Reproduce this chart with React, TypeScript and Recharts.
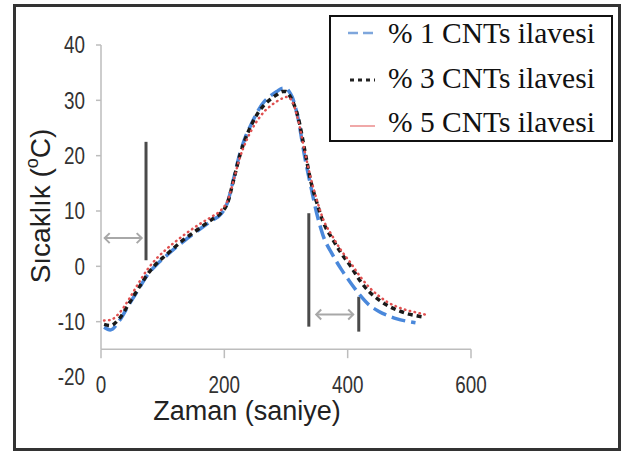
import { LineChart, Line, XAxis, YAxis, ReferenceLine, Legend } from 'recharts'

// zaman (s)
const times = [
  5, 15, 30, 45, 60, 75, 90, 105, 120, 135, 150, 165, 180, 195, 205, 215, 225, 235, 245, 255, 265,
  275, 285, 295, 300, 305, 310, 320, 330, 340, 350, 360, 375, 390, 405, 420, 435, 450, 465, 480,
  495, 510, 525,
]
// % 1 CNTs
const cnt1 = [
  -11.0, -11.5, -9.8, -7.0, -4.3, -1.6, 0.3, 1.8, 3.3, 4.6, 5.9, 7.1, 8.3, 9.5, 11.5, 15.8, 20.3,
  23.6, 26.0, 28.2, 29.8, 30.8, 31.6, 32.2, 32.2, 31.6, 30.6, 26.5, 20.0, 14.6, 9.5, 5.6, 2.2,
  -0.6, -3.0, -5.2, -7.0, -8.1, -8.9, -9.5, -9.9, -10.2, null,
]
// % 3 CNTs
const cnt3 = [
  -10.5, -10.7, -9.4, -6.8, -4.1, -1.5, 0.5, 2.0, 3.5, 4.9, 6.1, 7.3, 8.5, 9.7, 11.4, 15.6, 20.0,
  23.3, 25.8, 27.8, 29.2, 30.2, 31.0, 31.6, 31.6, 31.0, 30.0, 26.8, 21.2, 15.5, 11.5, 8.1, 5.0,
  2.3, 0.0, -2.6, -4.6, -6.0, -7.1, -7.9, -8.5, -8.9, -9.2,
]
// % 5 CNTs
const cnt5 = [
  -9.8, -9.7, -8.4, -6.0, -3.2, -0.6, 1.4, 3.0, 4.4, 5.7, 6.9, 8.0, 9.0, 10.2, 11.8, 15.5, 19.6,
  22.5, 24.8, 26.6, 28.0, 29.0, 29.8, 30.4, 30.6, 30.5, 29.8, 26.3, 21.0, 16.0, 12.0, 8.6, 5.5,
  2.8, 0.6, -1.8, -3.8, -5.3, -6.5, -7.3, -7.9, -8.3, -8.7,
]

const xTicks = [0, 200, 400, 600]
const yTicks = [-20, -10, 0, 10, 20, 30, 40]
const legendLabels = ['% 1 CNTs ilavesi', '% 3 CNTs ilavesi', '% 5 CNTs ilavesi']

// işaret çizgileri (s, °C)
const markLines = [
  { t: 73, from: 1.1, to: 22.5 },
  { t: 337, from: -10.9, to: 9.6 },
  { t: 418, from: -11.8, to: -5.5 },
]
const arrows = [
  { from: 6, to: 66, at: 5.1 },
  { from: 349, to: 409, at: -8.7 },
]
const axisBase = -15

const data = times.map((t, i) => ({ t, a: cnt1[i], b: cnt3[i], c: cnt5[i] }))

const tickFont = '"Liberation Sans Narrow", "Liberation Sans", Arial, sans-serif'
const axisGray = '#bdbdbd'

function YTick({ x, y, payload }: any) {
  return (
    <g>
      {payload.value > -20 && (
        <line x1={x + 11} x2={x + 16} y1={y} y2={y} stroke={axisGray} strokeWidth={1.5} />
      )}
      <text
        transform={`translate(${x},${y}) scale(0.82,1)`}
        dy="0.36em"
        textAnchor="end"
        fontFamily={tickFont}
        fontSize={23}
        fill="#333"
      >
        {payload.value}
      </text>
    </g>
  )
}

function XTick({ x, y, payload }: any) {
  return (
    <text
      transform={`translate(${x},${y + 16}) scale(0.82,1)`}
      textAnchor="middle"
      fontFamily={tickFont}
      fontSize={23}
      fill="#333"
    >
      {payload.value}
    </text>
  )
}

function Arrow({ x1, y1, x2, y2 }: any) {
  const h = 5
  return (
    <g stroke="#a8a8a8" strokeWidth={2} fill="none">
      <line x1={x1} y1={y1} x2={x2} y2={y2} />
      <polyline points={`${x1 + h},${y1 - h} ${x1},${y1} ${x1 + h},${y1 + h}`} />
      <polyline points={`${x2 - h},${y2 - h} ${x2},${y2} ${x2 - h},${y2 + h}`} />
    </g>
  )
}

function LegendBox() {
  const serif = '"Liberation Serif", "Times New Roman", serif'
  return (
    <svg width={284} height={127} style={{ display: 'block' }}>
      <rect x={1} y={1} width={282} height={125} fill="#fff" stroke="#111" strokeWidth={2} />
      <line x1={19} x2={46} y1={18} y2={18} stroke="#7ea6dc" strokeWidth={2.5} strokeDasharray="10 5" />
      <line x1={21} x2={46} y1={65} y2={65} stroke="#222" strokeWidth={3} strokeDasharray="4 4" />
      <line x1={21} x2={46} y1={111} y2={111} stroke="#f0a8a8" strokeWidth={2} />
      {legendLabels.map((s, i) => (
        <text key={s} x={59} y={28 + i * 44.5} fontFamily={serif} fontSize={29.5} fill="#111">
          {s}
        </text>
      ))}
    </svg>
  )
}

export default function App() {
  return (
    <div style={{ position: 'absolute', left: 0, top: 0, width: 621, height: 451, background: '#fff' }}>
      <div
        style={{
          position: 'absolute',
          left: 13,
          top: 4,
          width: 608,
          height: 447,
          border: '3px solid #333',
          boxSizing: 'border-box',
        }}
      />
      <LineChart
        width={621}
        height={451}
        data={data}
        margin={{ top: 45, right: 150, bottom: 0, left: 0 }}
        style={{ position: 'absolute', left: 0, top: 0 }}
      >
        <XAxis
          type="number"
          dataKey="t"
          domain={[0, 600]}
          ticks={xTicks}
          axisLine={false}
          tickLine={false}
          tickSize={0}
          tickMargin={0}
          height={74}
          tick={<XTick />}
          label={{
            content: () => (
              <text x={247} y={420} textAnchor="middle" fontFamily="'Liberation Sans', Arial, sans-serif" fontSize={27} fill="#222">
                Zaman (saniye)
              </text>
            ),
          }}
        />
        <YAxis
          type="number"
          domain={[-20, 40]}
          ticks={yTicks}
          axisLine={false}
          tickLine={false}
          tickSize={0}
          tickMargin={16}
          width={101}
          tick={<YTick />}
          label={{
            content: () => (
              <text
                transform="translate(50,206) rotate(-90)"
                textAnchor="middle"
                fontFamily="'Liberation Sans', Arial, sans-serif"
                fontSize={28}
                fill="#222"
              >
                Sıcaklık (
                <tspan dy={-12} fontSize={18}>
                  o
                </tspan>
                <tspan dy={12}>C)</tspan>
              </text>
            ),
          }}
        />
        <ReferenceLine
          segment={[
            { x: 0, y: axisBase },
            { x: 600, y: axisBase },
          ]}
          stroke={axisGray}
          strokeWidth={1.5}
        />
        <ReferenceLine
          segment={[
            { x: 0, y: axisBase },
            { x: 0, y: 40 },
          ]}
          stroke={axisGray}
          strokeWidth={1.5}
        />
        {xTicks.map((t) => (
          <ReferenceLine
            key={`xt${t}`}
            segment={[
              { x: t, y: axisBase },
              { x: t, y: axisBase - 1.6 },
            ]}
            stroke={axisGray}
            strokeWidth={1.5}
          />
        ))}
        {markLines.map((m) => (
          <ReferenceLine
            key={`m${m.t}`}
            segment={[
              { x: m.t, y: m.from },
              { x: m.t, y: m.to },
            ]}
            stroke="#4a4a4a"
            strokeWidth={3}
          />
        ))}
        {arrows.map((a) => (
          <ReferenceLine
            key={`a${a.from}`}
            segment={[
              { x: a.from, y: a.at },
              { x: a.to, y: a.at },
            ]}
            shape={(p: any) => <Arrow {...p} />}
          />
        ))}
        <Line
          type="monotone"
          dataKey="a"
          stroke="#4a88db"
          strokeWidth={3.5}
          strokeDasharray="14 6"
          dot={false}
          isAnimationActive={false}
        />
        <Line
          type="monotone"
          dataKey="b"
          stroke="#1a1a1a"
          strokeWidth={3.5}
          strokeDasharray="5 4"
          dot={false}
          isAnimationActive={false}
        />
        <Line
          type="monotone"
          dataKey="c"
          stroke="#e05050"
          strokeWidth={2.5}
          strokeLinecap="round"
          strokeDasharray="0.5 4.5"
          dot={false}
          isAnimationActive={false}
        />
        <Legend
          layout="vertical"
          align="center"
          verticalAlign="middle"
          content={() => <LegendBox />}
          wrapperStyle={{ left: 329, top: 15, width: 284, height: 127 }}
        />
      </LineChart>
    </div>
  )
}
